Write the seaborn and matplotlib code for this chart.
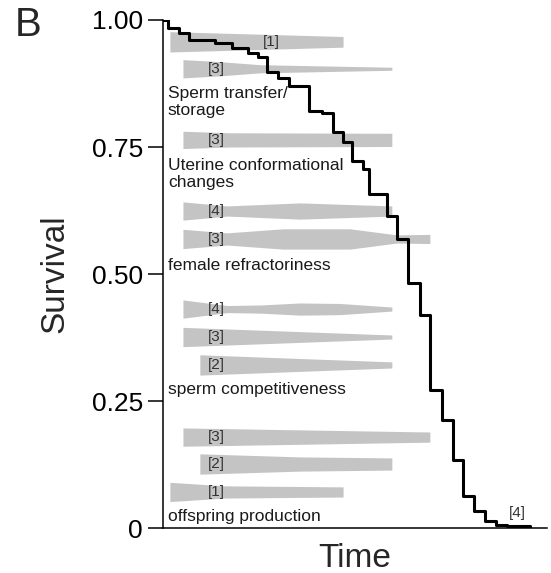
import numpy as np
import matplotlib
matplotlib.use("Agg")
import matplotlib.pyplot as plt
import seaborn as sns

# survival curve (step function)
times = [0, 1.3, 4.2, 6.8, 13.5, 18.0, 22.1, 24.7, 27.1, 29.9, 32.8, 38.0, 41.4, 44.3, 46.9,
         49.2, 52.1, 53.6, 58.3, 60.9, 63.8, 66.9, 69.5, 72.7, 75.5, 78.1, 81.0, 83.9, 86.7, 89.6, 95.6]
survival = [1.000, 0.984, 0.974, 0.961, 0.955, 0.945, 0.935, 0.927, 0.898, 0.886, 0.870, 0.821,
            0.817, 0.780, 0.760, 0.722, 0.707, 0.657, 0.614, 0.569, 0.482, 0.419, 0.272, 0.213,
            0.134, 0.063, 0.033, 0.014, 0.006, 0.004, 0.000]

# grey bands: centre, x control points, half widths
band_centers = [0.957, 0.904, 0.764, 0.624, 0.569, 0.431, 0.376, 0.321, 0.179, 0.126, 0.071]
band_x = [
    [1.8, 46.9],
    [5.2, 14.8, 25.3, 59.6],
    [5.2, 17.4, 59.6],
    [5.2, 16.7, 35.7, 59.6],
    [5.2, 16.7, 31.3, 48.7, 60.9, 69.5],
    [5.2, 16.7, 25.3, 35.7, 46.1, 59.6],
    [5.2, 59.6],
    [9.6, 59.6],
    [5.2, 69.5],
    [9.6, 35.7, 59.6],
    [1.8, 16.1, 46.9],
]
band_hw = [
    [0.020, 0.0105],
    [0.018, 0.014, 0.008, 0.003],
    [0.017, 0.014, 0.013],
    [0.018, 0.010, 0.016, 0.010],
    [0.019, 0.012, 0.020, 0.020, 0.008, 0.009],
    [0.018, 0.007, 0.008, 0.012, 0.011, 0.004],
    [0.019, 0.004],
    [0.020, 0.006],
    [0.018, 0.010],
    [0.020, 0.014, 0.012],
    [0.019, 0.012, 0.010],
]
band_tags = ['[1]', '[3]', '[3]', '[4]', '[3]', '[4]', '[3]', '[2]', '[3]', '[2]', '[1]']
tag_x = [28.1, 13.8, 13.8, 13.8, 13.8, 13.8, 13.8, 13.8, 13.8, 13.8, 13.8]

group_labels = ['Sperm transfer/\nstorage', 'Uterine conformational\nchanges',
                'female refractoriness', 'sperm competitiveness', 'offspring production']
group_y = [0.839, 0.697, 0.516, 0.272, 0.022]

sns.set_theme(style='ticks')
plt.rcParams['font.family'] = ['Liberation Sans', 'DejaVu Sans']

fig = plt.figure(figsize=(5.51, 5.73), dpi=100)
ax = fig.add_axes([0.2958, 0.0785, 0.6969, 0.8866])

for c, xs, hw in zip(band_centers, band_x, band_hw):
    hw = np.array(hw)
    ax.fill_between(xs, c - hw, c + hw, color='#c4c4c4', lw=0, zorder=1)

for t, c, x in zip(band_tags, band_centers, tag_x):
    ax.text(x, c, t, ha='center', va='center', fontsize=11, color='#333333', zorder=3)

for lab, y in zip(group_labels, group_y):
    ax.text(1.3, y, lab, ha='left', va='center', fontsize=12.5, color='#1a1a1a',
            linespacing=1.2, zorder=3)

ax.text(92.4, 0.030, '[4]', ha='center', va='center', fontsize=11, color='#333333')

sns.lineplot(x=times, y=survival, drawstyle='steps-post', color='black', lw=2.2,
             ax=ax, zorder=2)

ax.set_xlim(0, 100)
ax.set_ylim(0, 1)
ax.set_xticks([])
ax.set_yticks([0, 0.25, 0.5, 0.75, 1.0])
ax.set_yticklabels(['0', '0.25', '0.50', '0.75', '1.00'])
ax.tick_params(axis='y', direction='out', length=11, width=1.1, pad=3.5, labelsize=19,
               colors='black')
for s in ['top', 'right']:
    ax.spines[s].set_visible(False)
for s in ['left', 'bottom']:
    ax.spines[s].set_linewidth(1.1)
    ax.spines[s].set_color('black')

ax.set_ylabel('Survival', fontsize=24)
ax.yaxis.set_label_coords(-0.24, 0.5)
ax.set_xlabel('Time', fontsize=24)
ax.xaxis.set_label_coords(0.5, -0.03)

fig.text(0.027, 0.99, 'B', ha='left', va='top', fontsize=29)

fig.savefig('out.png', dpi=100)
